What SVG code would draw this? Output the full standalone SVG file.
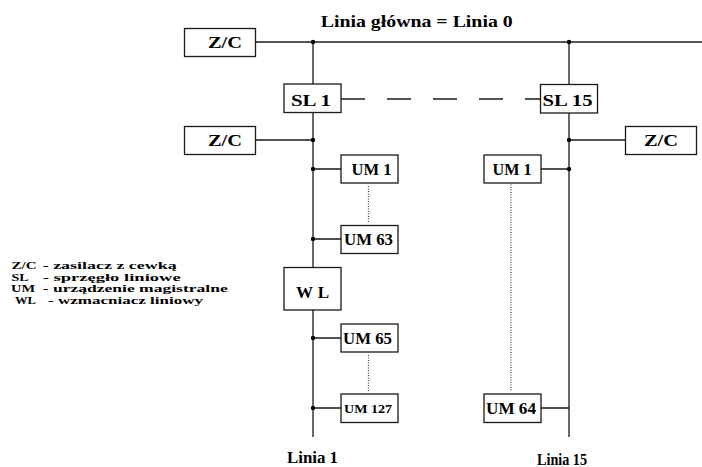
<svg xmlns="http://www.w3.org/2000/svg" width="702" height="467" viewBox="0 0 702 467" font-family="'Liberation Serif', 'Times New Roman', serif">
<style>
.box{fill:#fff;stroke:#1a1a1a;stroke-width:1.3}
.ln{fill:none;stroke:#1a1a1a;stroke-width:1.3}
.dash{fill:none;stroke:#1a1a1a;stroke-width:1.3;stroke-dasharray:24 22}
.dot{fill:none;stroke:#444;stroke-width:1.2;stroke-dasharray:1 1.5}
.j{fill:#000}
text{font-family:'Liberation Serif','Times New Roman',serif;font-weight:bold;fill:#000}
.t16{font-size:16px}
.t17{font-size:17px}
.t12{font-size:12.5px}
.lg{font-size:10.4px}
</style>
<rect width="702" height="467" fill="#fff"/>
<text class="t17" x="320.7" y="27" textLength="192" lengthAdjust="spacingAndGlyphs">Linia główna = Linia 0</text>
<g id="connectors">
<path class="ln" d="M256,42H702"/>
<path class="ln" d="M313,42V84M313,112V267.5M313,310V437"/>
<path class="ln" d="M569,42V84.5M569,113V437"/>
<path class="dash" d="M341,99H540.5"/>
<path class="ln" d="M256,140H313M569,140H625.5"/>
<path class="ln" d="M313,169H341M313,239H341M313,338H341M313,408H341"/>
<path class="ln" d="M541,169H569M541,408H569"/>
<path class="dot" d="M368.5,186V223M368.5,355V392M511,182V392"/>
<circle class="j" cx="313" cy="42" r="2.2"/>
<circle class="j" cx="569" cy="42" r="2.2"/>
<circle class="j" cx="313" cy="140" r="2.2"/>
<circle class="j" cx="569" cy="140" r="2.2"/>
<circle class="j" cx="313" cy="169" r="2.2"/>
<circle class="j" cx="569" cy="169" r="2.2"/>
<circle class="j" cx="313" cy="239" r="2.2"/>
<circle class="j" cx="313" cy="338" r="2.2"/>
<circle class="j" cx="313" cy="408" r="2.2"/>
</g>
<g id="zc_top"><rect class="box" x="184.5" y="28.5" width="71" height="28"/><text class="t16" x="208" y="47.5" textLength="34" lengthAdjust="spacingAndGlyphs">Z/C</text></g>
<g id="sl1"><rect class="box" x="284" y="84" width="57" height="28.5"/><text class="t17" x="291" y="106" textLength="40" lengthAdjust="spacingAndGlyphs">SL 1</text></g>
<g id="sl15"><rect class="box" x="540.5" y="84.5" width="57" height="28.5"/><text class="t17" x="542.5" y="106" textLength="50" lengthAdjust="spacingAndGlyphs">SL 15</text></g>
<g id="zc_line1"><rect class="box" x="184.5" y="126.5" width="71" height="28"/><text class="t16" x="208" y="145.5" textLength="34" lengthAdjust="spacingAndGlyphs">Z/C</text></g>
<g id="zc_line15"><rect class="box" x="625.5" y="126.5" width="71" height="28"/><text class="t16" x="644" y="145.5" textLength="34" lengthAdjust="spacingAndGlyphs">Z/C</text></g>
<g id="um1_l1"><rect class="box" x="341" y="155" width="57" height="28"/><text class="t16" x="351.5" y="175" textLength="40" lengthAdjust="spacingAndGlyphs">UM 1</text></g>
<g id="um63"><rect class="box" x="341" y="225.5" width="57" height="28"/><text class="t16" x="344" y="245" textLength="49" lengthAdjust="spacingAndGlyphs">UM 63</text></g>
<g id="wl"><rect class="box" x="284" y="267.5" width="57" height="42.5"/><text class="t17" x="296" y="297.5" textLength="33" lengthAdjust="spacing">WL</text></g>
<g id="um65"><rect class="box" x="341" y="324" width="57" height="28"/><text class="t16" x="343" y="343.5" textLength="49" lengthAdjust="spacingAndGlyphs">UM 65</text></g>
<g id="um127"><rect class="box" x="341" y="394" width="57" height="28.5"/><text class="t12" x="344" y="412.5" textLength="48" lengthAdjust="spacingAndGlyphs">UM 127</text></g>
<g id="um1_l15"><rect class="box" x="484" y="155" width="57" height="28"/><text class="t16" x="492.5" y="175" textLength="39" lengthAdjust="spacingAndGlyphs">UM 1</text></g>
<g id="um64"><rect class="box" x="484" y="394" width="57" height="28.5"/><text class="t16" x="486" y="413.5" textLength="50" lengthAdjust="spacingAndGlyphs">UM 64</text></g>
<g id="labels">
<text class="t16" x="287" y="463" textLength="51" lengthAdjust="spacingAndGlyphs">Linia 1</text>
<text class="t16" x="537" y="465" textLength="50" lengthAdjust="spacingAndGlyphs">Linia 15</text>
</g>
<g id="legend">
<text class="lg" x="11.5" y="269" textLength="25" lengthAdjust="spacingAndGlyphs">Z/C</text>
<text class="lg" x="42.7" y="269" textLength="134" lengthAdjust="spacingAndGlyphs">- zasilacz z cewką</text>
<text class="lg" x="11.5" y="280.5" textLength="17" lengthAdjust="spacingAndGlyphs">SL</text>
<text class="lg" x="42.7" y="280.5" textLength="138" lengthAdjust="spacingAndGlyphs">- sprzęgło liniowe</text>
<text class="lg" x="11" y="292" textLength="24" lengthAdjust="spacingAndGlyphs">UM</text>
<text class="lg" x="42.7" y="292" textLength="185" lengthAdjust="spacingAndGlyphs">- urządzenie magistralne</text>
<text class="lg" x="15" y="303.5" textLength="21" lengthAdjust="spacingAndGlyphs">WL</text>
<text class="lg" x="48" y="303.5" textLength="155" lengthAdjust="spacingAndGlyphs">- wzmacniacz liniowy</text>
</g>
</svg>
